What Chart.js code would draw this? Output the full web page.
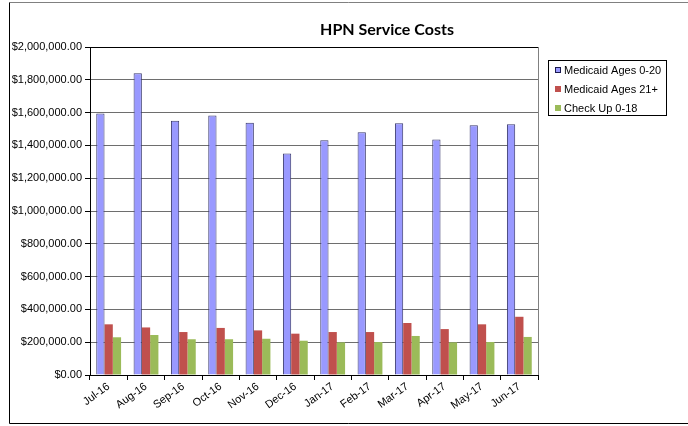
<!DOCTYPE html>
<html>
<head>
<meta charset="utf-8">
<script src="https://cdn.jsdelivr.net/npm/chart.js@4/dist/chart.umd.min.js"></script>
<style>
  html, body { margin: 0; padding: 0; background: #fff; }
  #wrap { position: relative; width: 688px; height: 426px; }
</style>
</head>
<body>
<div id="wrap"><canvas id="chart" width="688" height="426"></canvas></div>
<script>
const months = ["Jul-16", "Aug-16", "Sep-16", "Oct-16", "Nov-16", "Dec-16",
                "Jan-17", "Feb-17", "Mar-17", "Apr-17", "May-17", "Jun-17"];

const medicaid020 = [1595000, 1840000, 1550000, 1582000, 1538000, 1350000,
                     1432000, 1480000, 1535000, 1436000, 1523000, 1529000];
const medicaid21 = [309000, 290000, 262000, 287000, 272000, 252000,
                    262000, 262000, 317000, 280000, 309000, 355000];
const checkUp = [230000, 244000, 218000, 218000, 221000, 209000,
                 199000, 201000, 238000, 199000, 201000, 232000];

const titleText = "HPN Service Costs";

const money = v => "$" + Number(v).toLocaleString("en-US", { minimumFractionDigits: 2, maximumFractionDigits: 2 });

// marco exterior, titulo y leyenda con recuadro (dibujados a mano)
const decor = {
    id: "decor",
    beforeDraw(chart) {
        const { ctx } = chart;
        ctx.save();
        ctx.fillStyle = "#fff";
        ctx.fillRect(0, 0, chart.width, chart.height);
        ctx.lineWidth = 1;
        ctx.strokeStyle = "#808080";
        ctx.beginPath();
        ctx.moveTo(9.5, 2.5);
        ctx.lineTo(chart.width, 2.5);
        ctx.stroke();
        ctx.strokeStyle = "#000";
        ctx.beginPath();
        ctx.moveTo(9.5, 2.5);
        ctx.lineTo(9.5, 423.5);
        ctx.lineTo(chart.width, 423.5);
        ctx.stroke();
        ctx.restore();
    },
    afterDraw(chart) {
        const { ctx, chartArea } = chart;
        ctx.save();

        // borde del area de trazado
        ctx.lineWidth = 1;
        ctx.strokeStyle = "#000";
        ctx.beginPath();
        ctx.moveTo(chartArea.left, Math.round(chartArea.top) + 0.5);
        ctx.lineTo(chartArea.right, Math.round(chartArea.top) + 0.5);
        ctx.stroke();
        ctx.strokeStyle = "#808080";
        ctx.beginPath();
        ctx.moveTo(Math.round(chartArea.right) + 0.5, chartArea.top);
        ctx.lineTo(Math.round(chartArea.right) + 0.5, chartArea.bottom);
        ctx.stroke();

        // titulo
        ctx.fillStyle = "#000";
        ctx.font = "bold 16px Lato, 'Liberation Sans', sans-serif";
        ctx.textAlign = "center";
        ctx.textBaseline = "middle";
        ctx.fillText(titleText, 387, 30);

        // leyenda
        const lx = 548, ly = 60, lw = 118, lh = 55;
        ctx.strokeStyle = "#000";
        ctx.strokeRect(lx + 0.5, ly + 0.5, lw, lh);
        ctx.font = "11px 'Liberation Sans', Arial, sans-serif";
        ctx.textAlign = "left";
        chart.data.datasets.forEach((ds, i) => {
            const cy = ly + 10 + i * 19;
            ctx.fillStyle = ds.backgroundColor;
            ctx.fillRect(555, cy - 3, 6, 6);
            if (i === 0) {
                ctx.strokeStyle = "#1a1a4d";
                ctx.strokeRect(555.5, cy - 2.5, 5, 5);
            }
            ctx.fillStyle = "#000";
            ctx.fillText(ds.label, 564, cy + 1);
        });
        ctx.restore();
    }
};

new Chart(document.getElementById("chart"), {
    type: "bar",
    data: {
        labels: months,
        datasets: [
            {
                label: "Medicaid Ages 0-20",
                data: medicaid020,
                backgroundColor: "#9999FF",
                borderColor: "#3a3a6e",
                borderWidth: { left: 1, right: 1, top: 1, bottom: 0 },
                borderSkipped: false
            },
            {
                label: "Medicaid Ages 21+",
                data: medicaid21,
                backgroundColor: "#C0504D"
            },
            {
                label: "Check Up 0-18",
                data: checkUp,
                backgroundColor: "#9BBB59"
            }
        ]
    },
    options: {
        responsive: false,
        animation: false,
        layout: {
            padding: { left: 0, top: 47, right: 150, bottom: 0 }
        },
        datasets: {
            bar: {
                categoryPercentage: 0.665,
                barPercentage: 1
            }
        },
        plugins: {
            legend: { display: false },
            title: { display: false },
            tooltip: { enabled: false }
        },
        scales: {
            x: {
                offset: true,
                afterFit(scale) { scale.height = 51; },
                grid: {
                    offset: true,
                    drawOnChartArea: false,
                    drawTicks: true,
                    tickLength: 5,
                    color: "#000"
                },
                border: { color: "#000" },
                ticks: {
                    color: "#000",
                    font: { family: "'Liberation Sans', Arial, sans-serif", size: 11 },
                    maxRotation: 36,
                    minRotation: 36,
                    autoSkip: false,
                    padding: 0
                }
            },
            y: {
                min: 0,
                max: 2000000,
                afterFit(scale) { scale.width = 90; },
                grid: {
                    color: "#6e6e6e",
                    tickLength: 5,
                    tickColor: "#000"
                },
                border: { color: "#000" },
                ticks: {
                    stepSize: 200000,
                    color: "#000",
                    padding: 3,
                    font: { family: "'Liberation Sans', Arial, sans-serif", size: 11 },
                    callback: v => money(v)
                }
            }
        }
    },
    plugins: [decor]
});
</script>
</body>
</html>
